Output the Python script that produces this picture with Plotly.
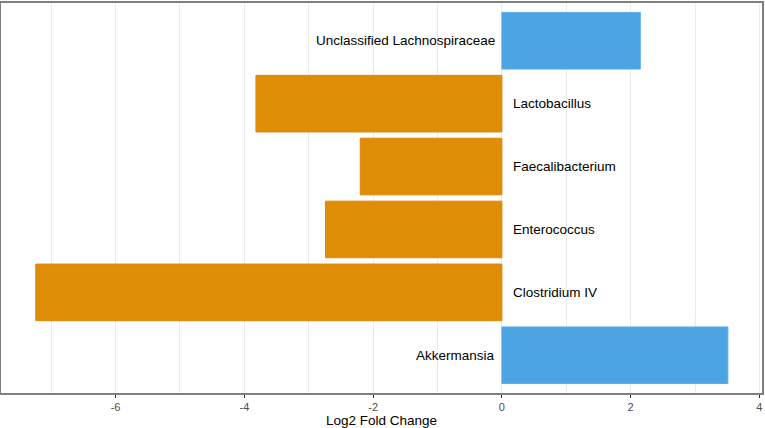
import plotly.graph_objects as go

# genera, top to bottom as in the figure
genera = ['Unclassified Lachnospiraceae', 'Lactobacillus', 'Faecalibacterium',
          'Enterococcus', 'Clostridium IV', 'Akkermansia']
log2fc = [2.15, -3.82, -2.20, -2.74, -7.24, 3.51]

tick_vals = [-6, -4, -2, 0, 2, 4]
tick_text = ['-6', '-4', '-2', '0', '2', '4']

ORANGE = '#DE8D06'
BLUE = '#4CA4E3'

colors = [BLUE if v > 0 else ORANGE for v in log2fc]
edges = ['#5AAEEA' if v > 0 else '#E0860A' for v in log2fc]

fig = go.Figure()
fig.add_trace(go.Bar(
    x=log2fc, y=genera, orientation='h',
    marker=dict(color=colors, line=dict(color=edges, width=1)),
    hoverinfo='x+y', showlegend=False,
))

# label each bar on the opposite side of zero
for g, v in zip(genera, log2fc):
    fig.add_annotation(
        x=0, y=g, text=g, showarrow=False,
        xanchor='right' if v > 0 else 'left',
        xshift=-5 if v > 0 else 9,
        font=dict(family='Liberation Sans, Arial, sans-serif', size=13.5, color='black'),
    )

fig.update_layout(
    width=765, height=428,
    margin=dict(l=1, r=2, t=1, b=34),
    plot_bgcolor='white', paper_bgcolor='white',
    bargap=0.1,
    font=dict(family='Liberation Sans, Arial, sans-serif'),
)
fig.update_xaxes(
    range=[-7.78, 4.04],
    tickmode='array', tickvals=tick_vals, ticktext=tick_text,
    showgrid=True, gridcolor='#EBEBEB', gridwidth=1,
    minor=dict(dtick=1, tick0=0, showgrid=True, gridcolor='#EBEBEB', gridwidth=1),
    zeroline=False,
    ticks='outside', ticklen=3, tickcolor='#333333', tickwidth=1,
    tickfont=dict(size=11, color='#4D4D4D'),
    showline=True, linecolor='#7F7F7F', linewidth=1.5, mirror=True,
    title=dict(text='Log2 Fold Change', font=dict(size=13.5, color='black'), standoff=5),
)
fig.update_yaxes(
    categoryorder='array', categoryarray=genera,
    range=[5.6, -0.6],
    showticklabels=False, showgrid=False, zeroline=False, ticks='',
    showline=True, linecolor='#7F7F7F', linewidth=1.5, mirror=True,
)

fig.write_html('out.html', config={'displayModeBar': False},
               post_script="document.body.style.margin='0px';")
